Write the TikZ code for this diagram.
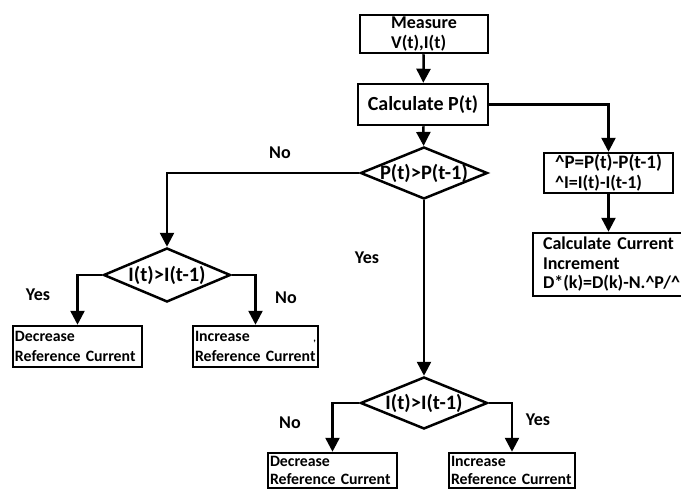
\documentclass[tikz,border=0pt]{standalone}
\usepackage{fontspec}
\setmainfont{Carlito}
\usetikzlibrary{shapes.geometric,arrows.meta}
\newcommand{\dlt}{\textasciicircum}

\begin{document}
\begin{tikzpicture}[x=1pt,y=-1pt,
  font=\bfseries\fontsize{18}{19.5}\selectfont,
  proc/.style={draw,line width=2.5pt,inner sep=0pt,align=left},
  cond/.style={draw,diamond,line width=2.5pt,aspect=2.4,inner sep=-4pt,
    minimum width=127pt,minimum height=52pt,font=\bfseries\fontsize{20.5}{21}\selectfont},
  outbox/.style={proc,text width=125pt,inner xsep=2pt,minimum height=41pt,
    font=\bfseries\fontsize{15.8}{20}\selectfont},
  flow/.style={line width=2.5pt,-{Triangle[width=14pt,length=14pt]}},
  lab/.style={font=\bfseries\fontsize{18}{18}\selectfont}]
\useasboundingbox (0,0) rectangle (681,488);
\clip (0,0) rectangle (681,488);
% main column
\node[proc,minimum width=128pt,minimum height=38pt] (meas) at (424,34) {Measure\\V(t),I(t)};
\node[proc,minimum width=130pt,minimum height=41pt,font=\bfseries\fontsize{20}{21}\selectfont] (calc) at (423,104.5) {Calculate P(t)};
\node[cond] (dP) at (424,173) {P(t)>P(t-1)};
\node[cond,minimum height=54pt] (dI1) at (167,275) {I(t)>I(t-1)};
\node[cond] (dI2) at (424,403) {I(t)>I(t-1)};
% right branch
\node[proc,minimum width=129pt,minimum height=40pt] (dp) at (608.5,173) {\fontsize{19}{19.5}\selectfont \dlt P=P(t)-P(t-1)\\\dlt I=I(t)-I(t-1)};
\node[proc,text width=137pt,inner xsep=10pt,minimum height=63pt] (cci) at (611.5,264.5)
  {\mbox{Calculate Current}\\Increment\\\mbox{D*(k)=D(k)-N.\dlt P/\dlt}};
% outputs
\node[outbox] (dec1) at (77.5,346.5) {Decrease\\\mbox{Reference Current}};
\node[outbox,text width=121pt] (inc1) at (255.5,346.5) {Increase\hfill{\fontsize{10}{10}\selectfont,}\\\mbox{Reference Current}};
\node[outbox,minimum height=35pt,font=\bfseries\fontsize{15.8}{18}\selectfont] (dec2) at (332.5,470.5) {Decrease\\\mbox{Reference Current}};
\node[outbox,text width=122pt,minimum height=35pt,font=\bfseries\fontsize{15.8}{18}\selectfont] (inc2) at (512,470.5) {Increase\\\mbox{Reference Current}};
% labels
\node[lab] (no1) at (280,153) {No};
\node[lab] (yes1) at (367,258) {Yes};
\node[lab] (yes2) at (38,295) {Yes};
\node[lab] (no2) at (286,298) {No};
\node[lab] (no3) at (290,423) {No};
\node[lab] (yes3) at (538,420) {Yes};
% connectors
\draw[flow] (meas) -- (calc);
\draw[flow] (calc) -- (dP);
\draw[flow] (calc.east) -| (dp.north);
\draw[flow] (dp.south) -- (dp.south |- cci.north);
\draw[flow] (dP.west) -| (dI1.north);
\draw[flow] (dP.south) -- (dI2.north);
\draw[flow] (dI1.west) -| (dec1.north);
\draw[flow] (dI1.east) -| (inc1.north);
\draw[flow] (dI2.west) -| (dec2.north);
\draw[flow] (dI2.east) -| (inc2.north);
\end{tikzpicture}
\end{document}
